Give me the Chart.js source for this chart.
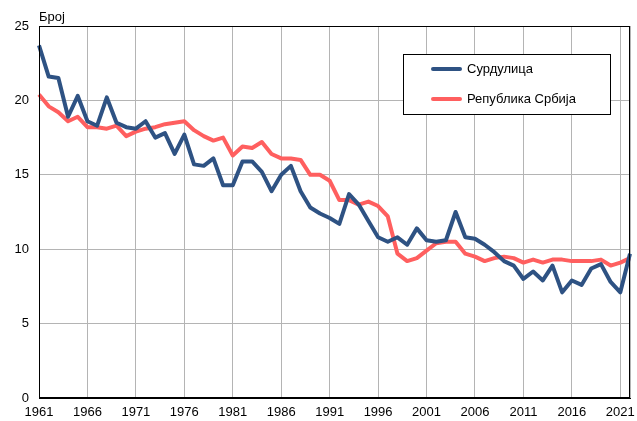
<!DOCTYPE html>
<html>
<head>
<meta charset="utf-8">
<script src="https://cdn.jsdelivr.net/npm/chart.js@4"></script>
<style>
  html, body { margin: 0; padding: 0; background: #fff; }
  #wrap { width: 637px; height: 421px; position: relative; }
</style>
</head>
<body>
<div id="wrap"><canvas id="c" width="637" height="421"></canvas></div>
<script>
const years = [];
for (let y = 1961; y <= 2022; y++) years.push(String(y));

const seriesNames = ['Сурдулица', 'Република Србија'];

const surdulica = [
  23.7, 21.6, 21.5, 18.9, 20.3, 18.6, 18.3, 20.2, 18.5, 18.2,
  18.1, 18.6, 17.5, 17.8, 16.4, 17.7, 15.7, 15.6, 16.1, 14.3,
  14.3, 15.9, 15.9, 15.2, 13.9, 15.0, 15.6, 13.9, 12.8, 12.4,
  12.1, 11.7, 13.7, 13.0, 11.9, 10.8, 10.5, 10.8, 10.3, 11.4,
  10.6, 10.5, 10.6, 12.5, 10.8, 10.7, 10.3, 9.8, 9.2, 8.9,
  8.0, 8.5, 7.9, 8.9, 7.1, 7.9, 7.6, 8.7, 9.0, 7.8,
  7.1, 9.7
];

const srbija = [
  20.4, 19.6, 19.2, 18.6, 18.9, 18.2, 18.2, 18.1, 18.3, 17.6,
  17.9, 18.1, 18.2, 18.4, 18.5, 18.6, 18.0, 17.6, 17.3, 17.5,
  16.3, 16.9, 16.8, 17.2, 16.4, 16.1, 16.1, 16.0, 15.0, 15.0,
  14.6, 13.3, 13.3, 13.0, 13.2, 12.9, 12.2, 9.7, 9.2, 9.4,
  9.9, 10.4, 10.5, 10.5, 9.7, 9.5, 9.2, 9.4, 9.5, 9.4,
  9.1, 9.3, 9.1, 9.3, 9.3, 9.2, 9.2, 9.2, 9.3, 8.9,
  9.1, 9.4
];

const yAxisLabel = 'Број';
const colors = ['#2E5283', '#FF5F5F'];
const FONT = '"Liberation Sans", Arial, sans-serif';

const extras = {
  id: 'extras',
  afterDraw(chart) {
    const ctx = chart.ctx;
    const a = chart.chartArea;
    ctx.save();
    // frame
    ctx.strokeStyle = '#000';
    ctx.lineWidth = 1;
    ctx.strokeRect(Math.round(a.left) + 0.5, Math.round(a.top) + 0.5,
                   Math.round(a.right - a.left) - 1, Math.round(a.bottom - a.top) - 1);
    // y axis title
    ctx.fillStyle = '#000';
    ctx.font = '13px ' + FONT;
    ctx.textAlign = 'left';
    ctx.textBaseline = 'alphabetic';
    ctx.fillText(yAxisLabel, 39, 21);
    // legend
    const bx = 403.5, by = 54.5, bw = 207, bh = 60;
    ctx.fillStyle = '#fff';
    ctx.fillRect(bx, by, bw, bh);
    ctx.strokeStyle = '#000';
    ctx.strokeRect(bx, by, bw, bh);
    const rowsY = [69, 99];
    chart.data.datasets.forEach((ds, i) => {
      ctx.strokeStyle = ds.borderColor;
      ctx.lineWidth = 4;
      ctx.lineCap = 'round';
      ctx.beginPath();
      ctx.moveTo(433, rowsY[i]);
      ctx.lineTo(460, rowsY[i]);
      ctx.stroke();
      ctx.fillStyle = '#000';
      ctx.font = '13px ' + FONT;
      ctx.textBaseline = 'middle';
      ctx.fillText(ds.label, 467, rowsY[i]);
    });
    ctx.restore();
  }
};

new Chart(document.getElementById('c'), {
  type: 'line',
  data: {
    labels: years,
    datasets: [
      { label: seriesNames[0], data: surdulica, borderColor: colors[0], backgroundColor: colors[0],
        borderWidth: 4, pointRadius: 0, tension: 0, borderJoinStyle: 'round' },
      { label: seriesNames[1], data: srbija, borderColor: colors[1], backgroundColor: colors[1],
        borderWidth: 4, pointRadius: 0, tension: 0, borderJoinStyle: 'round' }
    ]
  },
  options: {
    responsive: false,
    animation: false,
    layout: { padding: { left: 0, right: 6, top: 26, bottom: 0 } },
    plugins: { legend: { display: false }, tooltip: { enabled: false }, title: { display: false } },
    scales: {
      x: {
        type: 'category',
        offset: false,
        afterFit(s) { s.height = 23; },
        grid: {
          drawTicks: false,
          color: (c) => (c.index % 5 === 0 || c.index === years.length - 1) ? '#B4B4B4' : 'rgba(0,0,0,0)',
          lineWidth: 1
        },
        border: { color: '#000', width: 1 },
        ticks: {
          autoSkip: false, maxRotation: 0, minRotation: 0, padding: 7,
          color: '#000', font: { family: FONT, size: 13 },
          callback: (v, i) => (i % 5 === 0 ? years[i] : '')
        }
      },
      y: {
        min: 0, max: 25,
        afterFit(s) { s.width = 39; },
        grid: { drawTicks: false, color: '#B4B4B4', lineWidth: 1 },
        border: { color: '#000', width: 1 },
        ticks: { stepSize: 5, padding: 10, color: '#000', font: { family: FONT, size: 13 } }
      }
    }
  },
  plugins: [extras]
});
</script>
</body>
</html>
